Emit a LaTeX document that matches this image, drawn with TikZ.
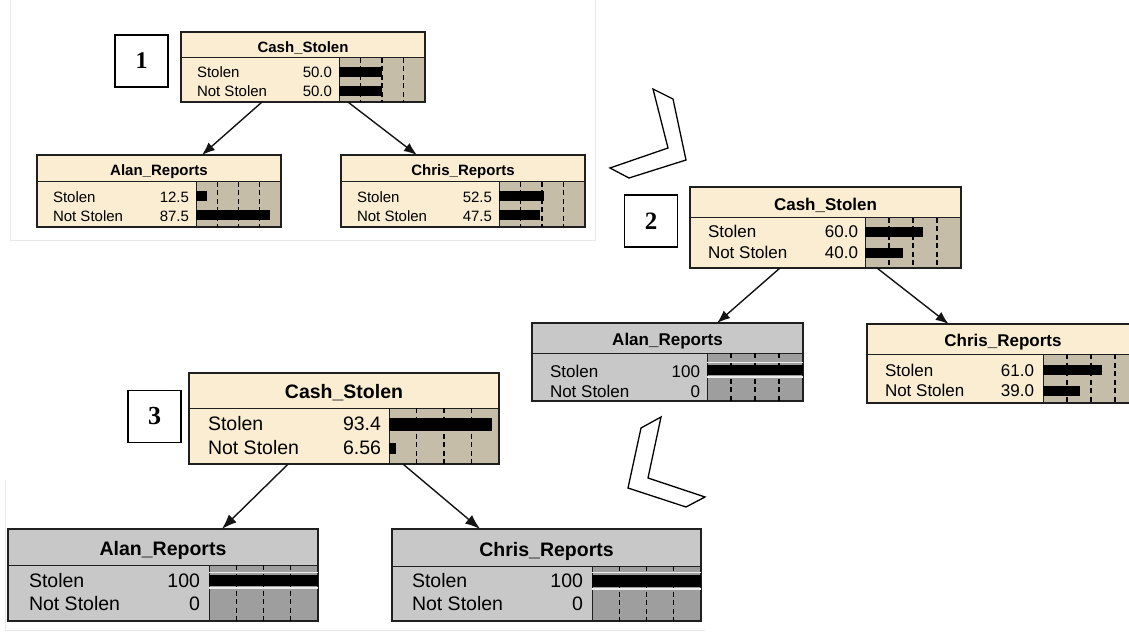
\documentclass[tikz,border=0pt]{standalone}
\usepackage{fontspec}
\setmainfont{Liberation Sans}
\newfontfamily\numfont{Liberation Serif}
\usetikzlibrary{arrows.meta,calc}
\definecolor{tanbody}{RGB}{250,237,210}
\definecolor{tanbar}{RGB}{197,189,168}
\definecolor{graybody}{RGB}{200,200,200}
\definecolor{graybar}{RGB}{158,158,158}
\def\cursz{15}
\tikzset{
  frame/.style={draw=black!88, line width=1.4pt, inner sep=0pt, outer sep=0pt},
  sepline/.style={draw=black!88, line width=1pt},
  dashline/.style={draw=black, line width=1.4pt, dash pattern=on 5pt off 3.5pt},
  evline/.style={draw=white!85!gray, line width=1.6pt},
  bodytan/.style={fill=tanbody}, bartan/.style={fill=tanbar},
  bodygray/.style={fill=graybody}, bargray/.style={fill=graybar},
  txt/.style={inner sep=0pt, outer sep=0pt, text height=0.716em, text depth=0pt,
    font=\fontsize{\cursz}{\cursz}\selectfont},
  lbl/.style={txt, anchor=west},
  val/.style={txt, anchor=east},
  ttl/.style={txt, font=\bfseries\fontsize{\cursz}{\cursz}\selectfont},
  numbox/.style={draw=black, line width=1.7pt, fill=white, inner sep=0pt,
    minimum width=53, minimum height=52},
  link/.style={draw=black!92, line width=1.4pt, -{Latex[length=13pt,width=10pt]}},
  chev/.style={draw=black, line width=1.3pt, fill=white, line join=miter},
  faint/.style={draw=black!9, line width=0.8pt}
}
% name, x1, y1, x2, y2, header y, bar x, kind, title
\newcommand\BNbox[9]{%
  \path[body#8] (#2,#3) rectangle (#4,#5);
  \path[bar#8] (#7,#6) rectangle (#4,#5);
  \draw[sepline] (#2,#6) -- (#4,#6) (#7,#6) -- (#7,#5);
  \node[frame, minimum width={#4-#2}, minimum height={#5-#3}] (#1) at ({(#2+#4)/2},{(#3+#5)/2}) {};
  \node[ttl] (#1-t) at ({(#2+#4)/2},{(#3+#6)/2+0.14*(#6-#3)}) {#9};
}
% name, label x, value x, y, label, value
\newcommand\BNrow[6]{%
  \node[lbl] (#1-l) at (#2,{#4+2}) {#5};
  \node[val] (#1-v) at (#3,{#4+2}) {#6};
}
% bar x, width, y, height, percent
\newcommand\BNbar[5]{%
  \fill[black] (#1,{#3-#4/2}) rectangle ({#1+#2*#5/100},{#3+#4/2});
}
% bar x, x2, ytop, ybot
\newcommand\BNdash[4]{%
  \foreach \k in {1,2,3}{\draw[dashline] ({#1+(#2-#1)*\k/4},#3) -- ({#1+(#2-#1)*\k/4},#4);}
}
% bar x, x2, black top, black bottom
\newcommand\BNev[4]{%
  \draw[evline] (#1,{#3-2.5}) -- (#2,{#3-2.5});
  \draw[evline] (#1,{#4+2}) -- (#2,{#4+2});
  \fill[black] (#1,#3) rectangle (#2,#4);
}
\begin{document}
\begin{tikzpicture}[x=1pt,y=-1pt]
\useasboundingbox (0,0) rectangle (1129,636);
\clip (0,0) rectangle (1129,636);
\fill[white] (0,0) rectangle (1129,636);

\draw[faint] (10,0) -- (10,240) -- (595,240) -- (595,0);
\draw[faint] (5,480) -- (5,630) -- (705,630);

% ---------- Panel 1 ----------
\def\cursz{15}
\node[numbox, font=\numfont\bfseries\fontsize{24}{24}\selectfont] (n1) at (141.5,61) {1};
\BNbox{cs1}{181}{32}{425}{102}{58}{339}{tan}{Cash\_Stolen}
\BNdash{339}{425}{58}{102}
\BNrow{cs1a}{197}{332}{72}{Stolen}{50.0}
\BNrow{cs1b}{197}{332}{91}{Not Stolen}{50.0}
\BNbar{339}{86}{72}{10}{50}
\BNbar{339}{86}{91}{10}{50}

\BNbox{al1}{37}{155}{281}{227}{182}{196}{tan}{Alan\_Reports}
\BNdash{196}{281}{182}{227}
\BNrow{al1a}{53}{189}{196.5}{Stolen}{12.5}
\BNrow{al1b}{53}{189}{215.5}{Not Stolen}{87.5}
\BNbar{196}{85}{196.5}{10}{12.5}
\BNbar{196}{85}{215.5}{10}{87.5}

\BNbox{ch1}{341}{155}{585}{227}{182}{499}{tan}{Chris\_Reports}
\BNdash{499}{585}{182}{227}
\BNrow{ch1a}{357}{492}{196.5}{Stolen}{52.5}
\BNrow{ch1b}{357}{492}{215.5}{Not Stolen}{47.5}
\BNbar{499}{86}{196.5}{10}{52.5}
\BNbar{499}{86}{215.5}{10}{47.5}

\draw[link] ($(cs1.south west)!0.332!(cs1.south east)$) -- ($(al1.north west)!0.676!(al1.north east)$);
\draw[link] ($(cs1.south west)!0.684!(cs1.south east)$) -- ($(ch1.north west)!0.311!(ch1.north east)$);

% chevrons
\draw[chev] (653,89) -- (673,99) -- (686,160) -- (629,178) -- (610,168) -- (668,148) -- cycle;
\draw[chev] (661,417) -- (641,428) -- (628,488) -- (686,507) -- (705,497) -- (648,478) -- cycle;

% ---------- Panel 2 ----------
\def\cursz{17}
\node[numbox, font=\numfont\bfseries\fontsize{25}{25}\selectfont] (n2) at (651,221) {2};
\BNbox{cs2}{690}{187}{961}{268}{218}{865}{tan}{Cash\_Stolen}
\BNdash{865}{961}{218}{268}
\BNrow{cs2a}{708}{858}{232}{Stolen}{60.0}
\BNrow{cs2b}{708}{858}{253}{Not Stolen}{40.0}
\BNbar{865}{96}{232}{10}{60}
\BNbar{865}{96}{253}{10}{40}

\BNbox{al2}{532}{323}{803}{401}{353}{707}{gray}{Alan\_Reports}
\BNdash{707}{803}{353}{401}
\BNev{707}{803}{365}{375}
\BNrow{al2a}{550}{700}{372}{Stolen}{100}
\BNrow{al2b}{550}{700}{392}{Not Stolen}{0}

\BNbox{ch2}{867}{324}{1139}{403}{354}{1043}{tan}{Chris\_Reports}
\BNdash{1043}{1139}{354}{403}
\BNrow{ch2a}{885}{1034}{370.5}{Stolen}{61.0}
\BNrow{ch2b}{885}{1034}{391}{Not Stolen}{39.0}
\BNbar{1043}{96}{370}{10}{61}
\BNbar{1043}{96}{391}{10}{39}

\draw[link] ($(cs2.south west)!0.332!(cs2.south east)$) -- ($(al2.north west)!0.683!(al2.north east)$);
\draw[link] ($(cs2.south west)!0.690!(cs2.south east)$) -- ($(ch2.north west)!0.30!(ch2.north east)$);

% ---------- Panel 3 ----------
\def\cursz{19.5}
\node[numbox, font=\numfont\bfseries\fontsize{26}{26}\selectfont] (n3) at (154.5,416.5) {3};
\BNbox{cs3}{189}{373}{499}{464}{408}{389}{tan}{Cash\_Stolen}
\BNdash{389}{499}{408}{464}
\BNrow{cs3a}{208}{381}{425}{Stolen}{93.4}
\BNrow{cs3b}{208}{381}{449}{Not Stolen}{6.56}
\BNbar{389}{110}{424}{13}{93.4}
\BNbar{389}{110}{448}{11}{6.56}

\BNbox{al3}{8}{529}{318}{621}{565}{209}{gray}{Alan\_Reports}
\BNdash{209}{318}{565}{621}
\BNev{209}{318}{575}{586}
\BNrow{al3a}{29}{200}{582}{Stolen}{100}
\BNrow{al3b}{29}{200}{605}{Not Stolen}{0}

\BNbox{ch3}{392}{529}{701}{621}{566}{592}{gray}{Chris\_Reports}
\BNdash{592}{701}{566}{621}
\BNev{592}{701}{575}{587}
\BNrow{ch3a}{412}{583}{582}{Stolen}{100}
\BNrow{ch3b}{412}{583}{605}{Not Stolen}{0}

\begin{scope}[link/.append style={-{Latex[length=15pt,width=11pt]}}]
\draw[link] ($(cs3.south west)!0.32!(cs3.south east)$) -- ($(al3.north west)!0.69!(al3.north east)$);
\draw[link] ($(cs3.south west)!0.69!(cs3.south east)$) -- ($(ch3.north west)!0.285!(ch3.north east)$);
\end{scope}
\end{tikzpicture}
\end{document}
